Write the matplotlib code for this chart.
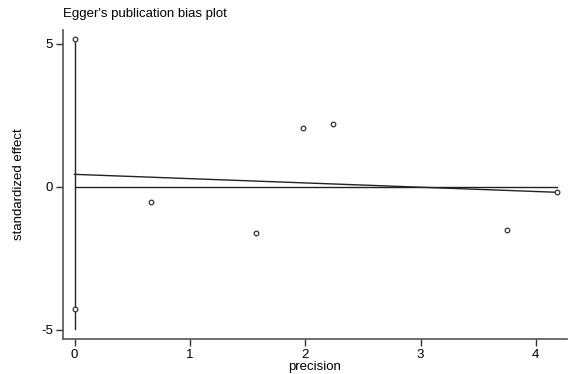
import matplotlib
matplotlib.use("Agg")
import matplotlib.pyplot as plt
import numpy as np

plt.rcParams['font.family'] = ['Liberation Sans', 'DejaVu Sans']

precision = [0.0, 0.0, 0.66, 1.57, 1.98, 2.24, 3.75, 4.18]
std_effect = [5.15, -4.29, -0.55, -1.62, 2.06, 2.18, -1.51, -0.19]
intercept = 0.43
slope = -0.15
ci_low, ci_high = -4.98, 5.15
xticks = [0, 1, 2, 3, 4]
yticks = [-5, 0, 5]

fig = plt.figure(figsize=(5.76, 3.74), dpi=100)
ax = fig.add_axes([63/576, (374-339)/374, (567-63)/576, (339-30)/374])

xmax = max(precision)
ax.plot([0, 0], [ci_low, ci_high], color='#222222', lw=1.0)
ax.plot([0, xmax], [0, 0], color='#222222', lw=1.0)
xs = np.array([0, xmax])
ax.plot(xs, intercept + slope * xs, color='#222222', lw=1.0)
ax.scatter(precision, std_effect, s=11, facecolors='white', edgecolors='#333333', linewidths=0.9, zorder=3)

ax.set_xlim(-0.1, 4.27)
ax.set_ylim(-5.33, 5.48)
ax.set_xticks(xticks)
ax.set_yticks(yticks)
ax.set_yticklabels([str(t) for t in yticks])
for s in ['top', 'right']:
    ax.spines[s].set_visible(False)
for s in ['left', 'bottom']:
    ax.spines[s].set_color('#555555')
    ax.spines[s].set_linewidth(1.2)
ax.tick_params(direction='out', length=5, width=1, color='#333333', labelsize=9.5, pad=2)
ax.set_xlabel('precision', fontsize=9.5, labelpad=0)
ax.set_ylabel('standardized effect', fontsize=9.5, labelpad=12)
fig.text(63/576, 1 - 14/374, "Egger's publication bias plot", fontsize=9.5, va='center', ha='left')

fig.savefig('out.png', dpi=100)
